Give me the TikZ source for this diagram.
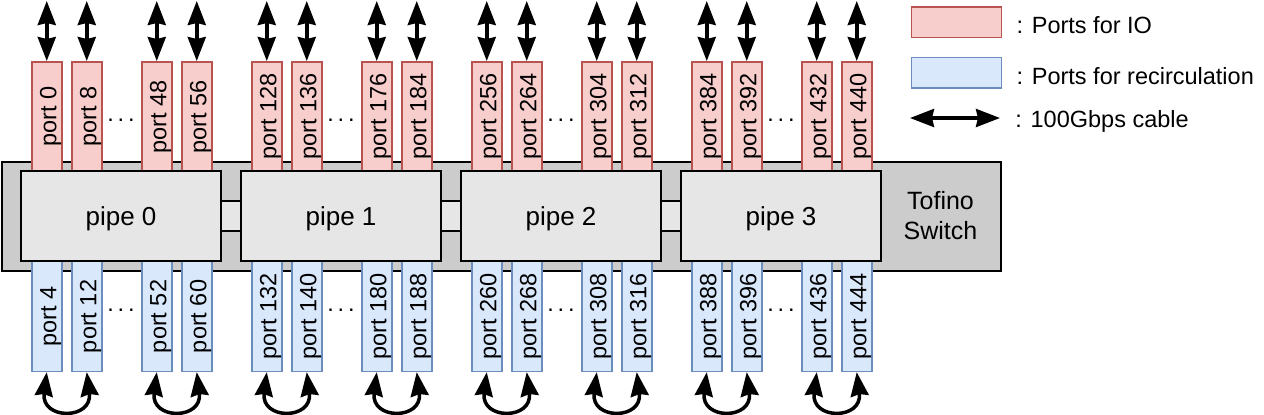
\documentclass[tikz,border=0pt]{standalone}
\usepackage{fontspec}
\setmainfont{Liberation Sans}
\usepackage{graphicx}
\usetikzlibrary{arrows.meta,positioning}
\definecolor{iofill}{HTML}{F8CECC}
\definecolor{iodraw}{HTML}{B85450}
\definecolor{recfill}{HTML}{DAE8FC}
\definecolor{recdraw}{HTML}{6C8EBF}
\definecolor{switchfill}{HTML}{CCCCCC}
\definecolor{pipefill}{HTML}{E6E6E6}

\newcommand{\portlabel}[1]{\rotatebox{90}{\rule{0pt}{12pt}port #1}}

\begin{document}
\begin{tikzpicture}[
    x=0.5pt, y=-0.5pt,
    >={Stealth[length=12pt,width=9pt,inset=1pt]},
    switchbox/.style={rectangle, draw, line width=1pt, fill=switchfill, inner sep=0pt, minimum width=499.5pt, minimum height=54.5pt},
    pipe/.style={rectangle, draw, line width=1pt, fill=pipefill, inner sep=0pt, outer sep=0pt, minimum width=100pt, minimum height=45pt, font=\fontsize{13}{15}\selectfont, text depth=0pt},
    pipelink/.style={rectangle, draw, line width=0.8pt, fill=pipefill, inner sep=0pt, outer sep=0pt, minimum width=10pt, minimum height=15pt},
    port/.style={rectangle, line width=0.75pt, inner sep=0pt, minimum width=15pt, minimum height=55pt, font=\fontsize{11.75}{14}\selectfont},
    ioport/.style={port, draw=iodraw, fill=iofill},
    recport/.style={port, draw=recdraw, fill=recfill},
    legendbox/.style={rectangle, line width=0.75pt, inner sep=0pt, minimum width=45pt, minimum height=15.3pt},
    legendtext/.style={inner sep=0pt, anchor=west, text depth=0pt, font=\fontsize{11.75}{14}\selectfont},
    cable/.style={<->, line width=1.75pt},
    gap/.style={inner sep=0pt, font=\fontsize{11.75}{14}\selectfont}
]
\useasboundingbox (0,0) rectangle (1264,414);

% switch body
\node[switchbox, anchor=north west] (switch) at (1,161) {};
\node[align=center, font=\fontsize{12.5}{15}\selectfont] (tofino) at (940.5,216) {Tofino\\Switch};

% ports of each pipe
\foreach \p in {0,...,3} {
  \foreach \off/\n [count=\i] in {10/0, 50/8, 120/48, 160/56} {
    \pgfmathtruncatemacro{\num}{128*\p+\n}
    \pgfmathtruncatemacro{\rnum}{128*\p+\n+4}
    \node[ioport, anchor=north west] (io\p-\i) at ({21+220*\p+\off},61) {\portlabel{\num}};
    \node[recport, anchor=north west] (rc\p-\i) at ({21+220*\p+\off},260.7) {\portlabel{\rnum}};
    \coordinate[above=30pt of io\p-\i.north] (out\p-\i);
    \draw[cable] (out\p-\i) -- (io\p-\i.north);
  }
  \node[gap] (iodots\p) at ({21+220*\p+100},120) {.\,.\,.};
  \node[gap] (rcdots\p) at ({21+220*\p+100},310) {.\,.\,.};
  \draw[cable] (rc\p-1.south) .. controls +(-6,48) and +(6,48) .. (rc\p-2.south);
  \draw[cable] (rc\p-3.south) .. controls +(-6,48) and +(6,48) .. (rc\p-4.south);
}

% pipes
\foreach \p in {0,...,3}
  \node[pipe, anchor=north west] (pipe\p) at ({21+220*\p},171) {pipe \p};
\foreach \p in {0,1,2}
  \node[pipelink, anchor=west] (link\p) at (pipe\p.east) {};

% legend
\node[legendbox, draw=iodraw, fill=iofill, anchor=north west] (legio) at (910.7,6) {};
\node[legendtext, right=7pt of legio, yshift=-1.5pt] (legiotext) {: Ports for IO};
\node[legendbox, draw=recdraw, fill=recfill, anchor=north west] (legrc) at (910.7,56.7) {};
\node[legendtext, right=7pt of legrc, yshift=-1.5pt] (legrctext) {: Ports for recirculation};
\coordinate (legl) at (910,118);
\coordinate (legr) at (1000,118);
\draw[cable] (legl) -- (legr);
\node[legendtext, right=7.5pt of legr, yshift=-0.5pt] (legcabletext) {: 100Gbps cable};
\end{tikzpicture}
\end{document}
